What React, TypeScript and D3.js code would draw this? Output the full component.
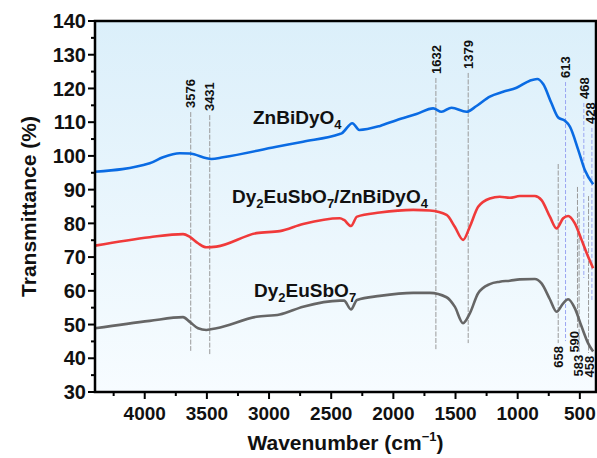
import { scaleLinear, line, curveMonotoneX, range } from "d3";

// ZnBiDyO4 (blue)
const blueWave = [4400, 3960, 3853, 3718, 3638, 3463, 3370, 2940, 2726, 2431, 2416, 2330, 2274, 2107, 1975, 1814, 1680, 1613, 1532, 1412, 1331, 1224, 1117, 1009, 902, 843, 795, 728, 674, 620, 580, 513, 460, 393];
const blueT = [95.3, 97.8, 99.6, 100.8, 100.7, 99.1, 99.6, 102.7, 104.2, 106.5, 106.7, 109.7, 107.7, 108.9, 110.6, 112.4, 114.1, 113.1, 114.3, 113.1, 114.8, 117.6, 119.0, 120.2, 122.3, 122.8, 121.3, 115.6, 111.4, 110.4, 108.7, 101.8, 95.8, 91.6];

// red + gray share the same sampled wavenumbers
const compWave = [4400, 3960, 3692, 3638, 3571, 3504, 3423, 3101, 2914, 2726, 2431, 2397, 2341, 2292, 2109, 1841, 1707, 1572, 1506, 1439, 1385, 1318, 1224, 1144, 1063, 983, 862, 808, 741, 687, 634, 594, 540, 486, 433, 393];
const redT = [73.4, 75.9, 76.8, 76.0, 74.1, 72.9, 73.1, 77.1, 77.7, 79.8, 81.5, 81.0, 79.2, 82.0, 83.2, 84.0, 83.8, 82.5, 79.0, 75.1, 79.0, 84.9, 87.4, 87.9, 87.6, 88.1, 88.1, 86.9, 82.0, 78.5, 81.5, 82.2, 80.0, 75.1, 70.1, 66.7];
const grayT = [48.9, 51.1, 52.2, 50.8, 48.9, 48.4, 48.9, 52.3, 53.0, 55.3, 57.1, 57.1, 54.5, 57.3, 58.5, 59.4, 59.4, 58.1, 55.3, 50.4, 53.3, 59.3, 62.0, 62.7, 63.0, 63.4, 63.5, 62.2, 57.5, 53.8, 56.3, 57.5, 54.8, 49.4, 44.4, 42.0];

// peak markers: label, drawn position, line top/bottom (in % units)
const peakLabels = ["3576", "3431", "1632", "1379", "613", "468", "428", "658", "590", "583", "458"];
const peakAt = [3630, 3477, 1658, 1398, 615, 468, 403, 674, 519, 506, 430];
const peakTop = [113.0, 112.1, 123.1, 124.6, 121.9, 115.7, 108.3, 97.6, 90.8, 83.4, 88.1];
const peakBottom = [42.2, 41.0, 42.7, 44.5, 45.1, 63.8, 57.3, 44.5, 49.0, 41.9, 41.6];
const peakBlue = [false, false, false, false, true, true, true, false, false, false, false];
const peakBelow = [false, false, false, false, false, false, false, true, true, true, true];

const xTicks = [4000, 3500, 3000, 2500, 2000, 1500, 1000, 500];
const yTicks = range(30, 141, 10);

const width = 597;
const height = 458;
const margin = { top: 21, right: 1, bottom: 66, left: 95 };
const innerW = width - margin.left - margin.right;
const innerH = height - margin.top - margin.bottom;

const font = "'Liberation Sans', Arial, sans-serif";

// nudge crowded peak labels sideways (px)
const labelNudge: Record<string, number> = { "590": -3, "583": -1, "458": 1, "428": -2 };

export default function App() {
  const x = scaleLinear().domain([4400, 370]).range([0, innerW]);
  const y = scaleLinear().domain([30, 140]).range([innerH, 0]);

  const path = line<[number, number]>()
    .x((d) => x(d[0]))
    .y((d) => y(d[1]))
    .curve(curveMonotoneX);

  const series = [
    { pts: blueWave.map((w, i) => [w, blueT[i]] as [number, number]), color: "#0a6be3" },
    { pts: compWave.map((w, i) => [w, redT[i]] as [number, number]), color: "#f03a3a" },
    { pts: compWave.map((w, i) => [w, grayT[i]] as [number, number]), color: "#666666" },
  ];

  const minorX = range(250, 4400, 250).filter((v) => v % 500 !== 0 && v > 370);
  const minorY = range(35, 140, 10);

  return (
    <svg width={width} height={height} style={{ position: "absolute", left: 0, top: 0, fontFamily: font }}>
      <defs>
        <linearGradient id="bg" x1="0" y1="0" x2="0" y2="1">
          <stop offset="0" stopColor="#dbeffa" />
          <stop offset="1" stopColor="#f7fcff" />
        </linearGradient>
      </defs>
      <rect width={width} height={height} fill="#fff" />
      <g transform={`translate(${margin.left},${margin.top})`}>
        <rect width={innerW} height={innerH} fill="url(#bg)" />

        {peakLabels.map((lab, i) => {
          const px = x(peakAt[i]);
          const top = y(peakTop[i]);
          const bot = y(peakBottom[i]);
          const lx = px + (labelNudge[lab] ?? 0);
          return (
            <g key={lab}>
              <line x1={px} x2={px} y1={top} y2={bot}
                stroke={peakBlue[i] ? "#9aa6f2" : "#9a9a9a"} strokeWidth={1}
                strokeDasharray={peakBlue[i] ? "4,2" : "5,1.5"} />
              <text transform={`translate(${lx},${peakBelow[i] ? bot + 3 : top - 4}) rotate(-90)`}
                textAnchor={peakBelow[i] ? "end" : "start"} dy="0.36em"
                fontSize={13} fontWeight="bold" fill="#111">{lab}</text>
            </g>
          );
        })}

        {series.map((s, i) => (
          <path key={i} d={path(s.pts) ?? ""} fill="none" stroke={s.color} strokeWidth={2.6} />
        ))}

        <text x={158} y={103} fontSize={19} fontWeight="bold" fill="#111">
          ZnBiDyO<tspan fontSize={13} dy={5}>4</tspan>
        </text>
        <text x={137} y={182} fontSize={19} fontWeight="bold" fill="#111">
          Dy<tspan fontSize={13} dy={5}>2</tspan><tspan dy={-5}>EuSbO</tspan><tspan fontSize={13} dy={5}>7</tspan><tspan dy={-5}>/ZnBiDyO</tspan><tspan fontSize={13} dy={5}>4</tspan>
        </text>
        <text x={159} y={276} fontSize={19} fontWeight="bold" fill="#111">
          Dy<tspan fontSize={13} dy={5}>2</tspan><tspan dy={-5}>EuSbO</tspan><tspan fontSize={13} dy={5}>7</tspan>
        </text>

        <rect width={innerW} height={innerH} fill="none" stroke="#000" strokeWidth={2.5} />

        {/* x axis */}
        {xTicks.map((t) => (
          <g key={t} transform={`translate(${x(t)},${innerH})`}>
            <line y2={7} stroke="#000" strokeWidth={2} />
            <text y={28} textAnchor="middle" fontSize={19} fontWeight="bold" fill="#111">{t}</text>
          </g>
        ))}
        {minorX.map((t) => (
          <line key={t} x1={x(t)} x2={x(t)} y1={innerH} y2={innerH + 4} stroke="#000" strokeWidth={2} />
        ))}

        {/* y axis */}
        {yTicks.map((t) => (
          <g key={t} transform={`translate(0,${y(t)})`}>
            <line x2={-7} stroke="#000" strokeWidth={2} />
            <text x={-9} dy="0.36em" textAnchor="end" fontSize={20} fontWeight="bold" fill="#111">{t}</text>
          </g>
        ))}
        {minorY.map((t) => (
          <line key={t} y1={y(t)} y2={y(t)} x2={-4} stroke="#000" strokeWidth={2} />
        ))}

        <text x={innerW / 2} y={innerH + 58} textAnchor="middle" fontSize={21} fontWeight="bold" fill="#111">
          Wavenumber (cm<tspan fontSize={13} dy={-9}>−1</tspan><tspan dy={9}>)</tspan>
        </text>
        <text transform={`translate(-59,${innerH / 2}) rotate(-90)`} textAnchor="middle" fontSize={21} fontWeight="bold" fill="#111">
          Transmittance (%)
        </text>
      </g>
    </svg>
  );
}
